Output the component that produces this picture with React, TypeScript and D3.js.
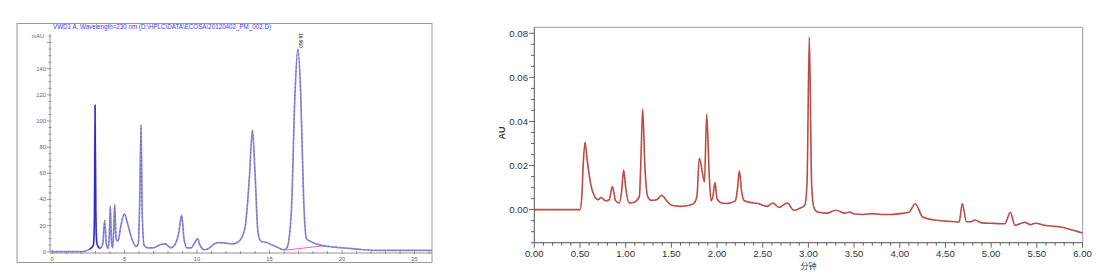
import React from 'react';
import * as d3 from 'd3';

// ---------- Left chromatogram (mAU vs min) ----------
const leftTimes = [0, 1, 2, 2.3, 2.6, 2.85, 2.92, 2.97, 3.02, 3.1, 3.3, 3.5, 3.63, 3.75, 3.88, 3.96, 4.02, 4.1, 4.18, 4.25, 4.32, 4.42, 4.55, 4.75, 4.99, 5.2, 5.5, 5.8, 5.95, 6.05, 6.14, 6.22, 6.35, 6.6, 7.0, 7.5, 7.8, 8.2, 8.5, 8.75, 8.94, 9.1, 9.3, 9.6, 9.85, 10.03, 10.2, 10.5, 10.8, 11.2, 11.5, 12.0, 12.5, 12.9, 13.3, 13.6, 13.82, 14.0, 14.2, 14.4, 14.8, 15.2, 15.6, 16.0, 16.2, 16.5, 16.75, 16.95, 17.15, 17.35, 17.55, 17.8, 18.5, 19.5, 20.5, 21.5, 22.5, 24, 26.2];
const leftValues = [0, 0, 0, 0.5, 2, 5, 20, 112, 30, 6, 2.5, 6, 24, 6, 2.5, 15, 35, 8, 3, 15, 36, 10, 8, 20, 29, 22, 10, 4, 6, 40, 97, 30, 5, 3, 3, 5.5, 6, 3, 6, 15, 28, 10, 3, 3, 7, 10, 5, 1.5, 2.5, 6, 7, 6.5, 6, 8, 18, 55, 93, 60, 15, 8, 7, 5, 3, 1.5, 3, 30, 120, 155, 120, 40, 10, 8, 5, 3.5, 2.5, 1.5, 1, 1, 1];
const leftYTicks = [0, 20, 40, 60, 80, 100, 120, 140];
const leftXTicks = [0, 5, 10, 15, 20, 25];
const leftTitle = 'VWD1 A, Wavelength=230 nm (D:\\HPLC\\DATA\\ECOSA\\20120402_PM_002.D)';
const leftPeakLabel = '16.960';
const leftBaseTimes = [16.1, 18.7];
const leftBaseValues = [1.2, 4.5];

// ---------- Right chromatogram (AU vs 分钟) ----------
const rightTimes = [0, 0.5, 0.52, 0.535, 0.555, 0.58, 0.62, 0.66, 0.7, 0.73, 0.78, 0.82, 0.854, 0.89, 0.93, 0.955, 0.978, 1.0, 1.04, 1.1, 1.15, 1.165, 1.186, 1.21, 1.24, 1.28, 1.34, 1.394, 1.45, 1.5, 1.6, 1.7, 1.75, 1.78, 1.806, 1.85, 1.862, 1.887, 1.915, 1.935, 1.955, 1.978, 2.0, 2.05, 2.1, 2.2, 2.225, 2.244, 2.27, 2.3, 2.4, 2.45, 2.5, 2.55, 2.61, 2.68, 2.77, 2.84, 2.9, 2.96, 2.985, 3.01, 3.035, 3.06, 3.1, 3.2, 3.3, 3.4, 3.455, 3.5, 3.6, 3.7, 3.8, 3.9, 4.0, 4.1, 4.17, 4.25, 4.4, 4.5, 4.65, 4.684, 4.73, 4.78, 4.82, 4.9, 5.0, 5.15, 5.21, 5.26, 5.37, 5.43, 5.48, 5.6, 5.7, 5.8, 5.9, 6.0];
const rightValues = [0, 0, 0.006, 0.02, 0.0305, 0.022, 0.011, 0.006, 0.0045, 0.0055, 0.004, 0.0045, 0.0105, 0.004, 0.003, 0.008, 0.018, 0.01, 0.003, 0.0035, 0.006, 0.02, 0.0455, 0.02, 0.006, 0.0042, 0.0045, 0.0065, 0.004, 0.002, 0.0015, 0.002, 0.003, 0.006, 0.0233, 0.0145, 0.0125, 0.0432, 0.015, 0.004, 0.006, 0.0123, 0.005, 0.003, 0.0028, 0.004, 0.01, 0.0176, 0.008, 0.004, 0.003, 0.0028, 0.002, 0.0015, 0.003, 0.001, 0.003, -0.0003, 0.0005, 0.002, 0.012, 0.0782, 0.012, 0.001, -0.0011, -0.0016, -0.0003, -0.0016, -0.0011, -0.002, -0.0022, -0.0018, -0.0022, -0.0022, -0.0018, -0.0012, 0.0027, -0.0033, -0.0048, -0.0052, -0.0056, 0.0027, -0.0055, -0.0055, -0.0047, -0.006, -0.0062, -0.0064, -0.0012, -0.0071, -0.0058, -0.0068, -0.0062, -0.0072, -0.0076, -0.0082, -0.0094, -0.0106];
const rightYTicks = [0, 0.02, 0.04, 0.06, 0.08];
const rightXTicks = [0, 0.5, 1, 1.5, 2, 2.5, 3, 3.5, 4, 4.5, 5, 5.5, 6];
const rightYLabel = 'AU';
const rightXLabel = '分钟';

export default function App() {
  // left scales
  const lx = d3.scaleLinear().domain([0, 26.2]).range([52, 432]);
  const ly = d3.scaleLinear().domain([0, 140]).range([251.7, 68.7]);
  const lPts = leftTimes.map((t, i) => [t, leftValues[i]] as [number, number]);
  const lLine = d3.line<[number, number]>().x(d => lx(d[0])).y(d => ly(d[1])).curve(d3.curveMonotoneX);
  const lPath = lLine(lPts) || '';
  const lSpike = lLine(lPts.filter(d => d[0] >= 2.6 && d[0] <= 3.3)) || '';
  const lBase = lLine(leftBaseTimes.map((t, i) => [t, leftBaseValues[i]] as [number, number])) || '';
  const lMinorY = d3.range(0, 166, 5);
  const lMinorX = d3.range(0, 27, 1);

  // right scales
  const rx = d3.scaleLinear().domain([0, 6]).range([534.3, 1082.5]);
  const ry = d3.scaleLinear().domain([-0.015, 0.08]).range([242.7, 33.3]);
  const rPts = rightTimes.map((t, i) => [t, rightValues[i]] as [number, number]);
  const rLine = d3.line<[number, number]>().x(d => rx(d[0])).y(d => ry(d[1])).curve(d3.curveMonotoneX);
  const rPath = rLine(rPts) || '';
  const rMinorY = d3.range(-0.015, 0.0801, 0.005);
  const rMinorX = d3.range(0, 6.001, 0.1);
  const f2 = d3.format('.2f');

  const sans = 'Liberation Sans, Arial, sans-serif';
  const rTop = 27.3;
  const rBottom = ry(-0.015);

  return (
    <svg width={1099} height={276} style={{ position: 'absolute', left: 0, top: 0, background: '#fff' }}>
      {/* ===== Left panel ===== */}
      <rect x={17} y={23.5} width={415} height={239} fill="#fff" stroke="#9a9a9a" strokeWidth={1} />
      <text x={53} y={28.5} fontFamily={sans} fontSize={6.6} fill="#3b3bd6" textLength={218} lengthAdjust="spacingAndGlyphs">{leftTitle}</text>
      <text x={44} y={38} fontFamily={sans} fontSize={5.5} fill="#666" textAnchor="end">mAU</text>
      {/* y axis */}
      <line x1={50} x2={50} y1={34} y2={253} stroke="#777" strokeWidth={0.8} />
      {lMinorY.map(v => (
        <line key={'lmy' + v} x1={v % 20 === 0 ? 47 : 48.5} x2={51.5} y1={ly(v)} y2={ly(v)} stroke="#777" strokeWidth={0.7} />
      ))}
      {leftYTicks.map(v => (
        <text key={'lyt' + v} x={46} y={ly(v) + 2} fontFamily={sans} fontSize={5.8} fill="#666" textAnchor="end">{v}</text>
      ))}
      {/* x axis */}
      <line x1={50} x2={432} y1={253} y2={253} stroke="#777" strokeWidth={0.8} />
      {lMinorX.map(v => (
        <line key={'lmx' + v} x1={lx(v)} x2={lx(v)} y1={v % 5 === 0 ? 249.5 : 251} y2={254} stroke="#777" strokeWidth={0.7} />
      ))}
      {leftXTicks.map(v => (
        <text key={'lxt' + v} x={lx(v)} y={260.5} fontFamily={sans} fontSize={5.8} fill="#666" textAnchor="middle">{v}</text>
      ))}
      {/* trace */}
      <path d={lPath} fill="none" stroke="#8a8ae6" strokeWidth={1.7} />
      <path d={lPath} fill="none" stroke="#6b6b8a" strokeWidth={0.8} strokeDasharray="1.5,2.5" />
      <path d={lSpike} fill="none" stroke="#2b2bd0" strokeWidth={1.3} />
      <path d={lBase} fill="none" stroke="#e04ad8" strokeWidth={0.9} />
      <text transform={`translate(${lx(16.95) + 1.5},${33}) rotate(90)`} fontFamily={sans} fontSize={4.8} fill="#223" >{leftPeakLabel}</text>

      {/* ===== Right panel ===== */}
      <line x1={534.3} x2={1082.7} y1={rTop} y2={rTop} stroke="#999" strokeWidth={1} />
      <line x1={1082.7} x2={1082.7} y1={rTop} y2={rBottom} stroke="#999" strokeWidth={1} />
      <line x1={534.3} x2={534.3} y1={rTop} y2={rBottom} stroke="#555" strokeWidth={1} />
      <line x1={534.3} x2={1082.7} y1={rBottom} y2={rBottom} stroke="#555" strokeWidth={1} />
      {rMinorY.map((v, i) => (
        <line key={'rmy' + i} x1={i % 4 === 3 ? 529 : 531} x2={534.3} y1={ry(v)} y2={ry(v)} stroke="#555" strokeWidth={0.9} />
      ))}
      {rightYTicks.map(v => (
        <text key={'ryt' + v} x={528} y={ry(v) + 3.5} fontFamily={sans} fontSize={9.6} fill="#333" textAnchor="end">{f2(v)}</text>
      ))}
      {rMinorX.map((v, i) => (
        <line key={'rmx' + i} x1={rx(v)} x2={rx(v)} y1={rBottom} y2={rBottom + (i % 5 === 0 ? 5 : 3)} stroke="#555" strokeWidth={0.9} />
      ))}
      {rightXTicks.map(v => (
        <text key={'rxt' + v} x={rx(v)} y={257} fontFamily={sans} fontSize={9.6} fill="#333" textAnchor="middle">{f2(v)}</text>
      ))}
      <text transform={`translate(${505},${133}) rotate(-90)`} fontFamily={sans} fontSize={9} fill="#333" textAnchor="middle" fontWeight="bold">{rightYLabel}</text>
      <text x={rx(3)} y={269} fontFamily="Noto Sans CJK SC, sans-serif" fontSize={8} fill="#333" textAnchor="middle">{rightXLabel}</text>
      <path d={rPath} fill="none" stroke="#c0504a" strokeWidth={1.6} />
      <path d={rPath} fill="none" stroke="#8a2a2a" strokeWidth={0.6} strokeDasharray="1,2" opacity={0.6} />
    </svg>
  );
}
